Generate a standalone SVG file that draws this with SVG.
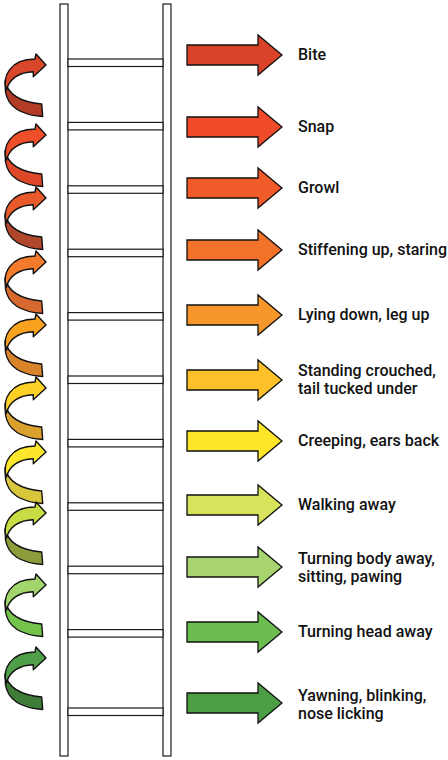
<svg xmlns="http://www.w3.org/2000/svg" width="448" height="760" viewBox="0 0 448 760">
<defs>
<style>
.rail{fill:#fff;stroke:#1a1a1a;stroke-width:1.2}
.rung{fill:#fff;stroke:#1a1a1a;stroke-width:1.2}
.arr{stroke:#111;stroke-width:1.3;stroke-linejoin:miter}
.cur{stroke:#111;stroke-width:1.4;stroke-linejoin:round}
.lbl{font-family:Roboto,"Liberation Sans",Arial,sans-serif;font-weight:500;font-size:16px;fill:#111}
</style>
<path id="straight" d="M0,-10 L71,-10 L71,-20 L95,0 L71,20 L71,10 L0,10 Z"/>
<path id="cfront" d="M-11,-6 L-10,-11 L0,0 L-12.7,11.7 L-12.7,6.7 C-27,7 -37,14 -39.5,25 C-44,12 -36,-6 -11,-6 Z"/>
<path id="cback" d="M-41,16 C-38,30 -26,37 -4.3,39 L-3.3,51.5 C-24,50 -38,42 -40.5,27 Z"/>
</defs>
<rect width="448" height="760" fill="#fff"/>

<g id="ladder">
<rect class="rail" x="60" y="4" width="8" height="752"/>
<rect class="rail" x="163" y="4" width="8" height="752"/>
<rect class="rung" x="68" y="59" width="95" height="7.5"/>
<rect class="rung" x="68" y="122.4" width="95" height="7.5"/>
<rect class="rung" x="68" y="185.8" width="95" height="7.5"/>
<rect class="rung" x="68" y="249.2" width="95" height="7.5"/>
<rect class="rung" x="68" y="312.6" width="95" height="7.5"/>
<rect class="rung" x="68" y="376" width="95" height="7.5"/>
<rect class="rung" x="68" y="439.4" width="95" height="7.5"/>
<rect class="rung" x="68" y="502.8" width="95" height="7.5"/>
<rect class="rung" x="68" y="566.2" width="95" height="7.5"/>
<rect class="rung" x="68" y="629.6" width="95" height="7.5"/>
<rect class="rung" x="68" y="708" width="95" height="7.5"/>
</g>

<g id="curly-arrows">
<g id="c1" transform="translate(46,65)"><use href="#cback" class="cur" fill="#b23c26"/><use href="#cfront" class="cur" fill="#d9472b"/></g>
<g id="c2" transform="translate(46,135)"><use href="#cback" class="cur" fill="#de4829"/><use href="#cfront" class="cur" fill="#ef4e2a"/></g>
<g id="c3" transform="translate(46,198)"><use href="#cback" class="cur" fill="#b0472a"/><use href="#cfront" class="cur" fill="#e95a2b"/></g>
<g id="c4" transform="translate(46,262)"><use href="#cback" class="cur" fill="#d8692e"/><use href="#cfront" class="cur" fill="#f47a2c"/></g>
<g id="c5" transform="translate(46,325)"><use href="#cback" class="cur" fill="#d9832b"/><use href="#cfront" class="cur" fill="#f8a21f"/></g>
<g id="c6" transform="translate(46,388)"><use href="#cback" class="cur" fill="#dba12e"/><use href="#cfront" class="cur" fill="#fdd125"/></g>
<g id="c7" transform="translate(46,452)"><use href="#cback" class="cur" fill="#d8c63c"/><use href="#cfront" class="cur" fill="#fde72c"/></g>
<g id="c8" transform="translate(46,513)"><use href="#cback" class="cur" fill="#8e9d3c"/><use href="#cfront" class="cur" fill="#c9dc45"/></g>
<g id="c9" transform="translate(46,585)"><use href="#cback" class="cur" fill="#74c34b"/><use href="#cfront" class="cur" fill="#a2d56c"/></g>
<g id="c10" transform="translate(46,658)"><use href="#cback" class="cur" fill="#3e7c37"/><use href="#cfront" class="cur" fill="#4f9f48"/></g>
</g>

<g id="n-bite"><use href="#straight" class="arr" x="187" y="55" fill="#d9432a"/><text class="lbl" x="298" y="60">Bite</text></g>
<g id="n-snap"><use href="#straight" class="arr" x="187" y="127" fill="#ef4a2a"/><text class="lbl" x="298" y="132">Snap</text></g>
<g id="n-growl"><use href="#straight" class="arr" x="187" y="188" fill="#f15a29"/><text class="lbl" x="298" y="193">Growl</text></g>
<g id="n-stiff"><use href="#straight" class="arr" x="187" y="250" fill="#f3722a"/><text class="lbl" x="298" y="255">Stiffening up, staring</text></g>
<g id="n-lying"><use href="#straight" class="arr" x="187" y="315" fill="#f7962a"/><text class="lbl" x="298" y="320">Lying down, leg up</text></g>
<g id="n-standing"><use href="#straight" class="arr" x="187" y="380" fill="#fcc02a"/><text class="lbl" x="298" y="376">Standing crouched,</text><text class="lbl" x="298" y="394">tail tucked under</text></g>
<g id="n-creeping"><use href="#straight" class="arr" x="187" y="441" fill="#fde52a"/><text class="lbl" x="298" y="446">Creeping, ears back</text></g>
<g id="n-walking"><use href="#straight" class="arr" x="187" y="505" fill="#d7e35b"/><text class="lbl" x="298" y="510">Walking away</text></g>
<g id="n-turnbody"><use href="#straight" class="arr" x="187" y="567" fill="#a8d46f"/><text class="lbl" x="298" y="564">Turning body away,</text><text class="lbl" x="298" y="582">sitting, pawing</text></g>
<g id="n-turnhead"><use href="#straight" class="arr" x="187" y="632" fill="#6cbd4f"/><text class="lbl" x="298" y="637">Turning head away</text></g>
<g id="n-yawning"><use href="#straight" class="arr" x="187" y="703" fill="#4c9e45"/><text class="lbl" x="298" y="701">Yawning, blinking,</text><text class="lbl" x="298" y="719">nose licking</text></g>
</svg>
